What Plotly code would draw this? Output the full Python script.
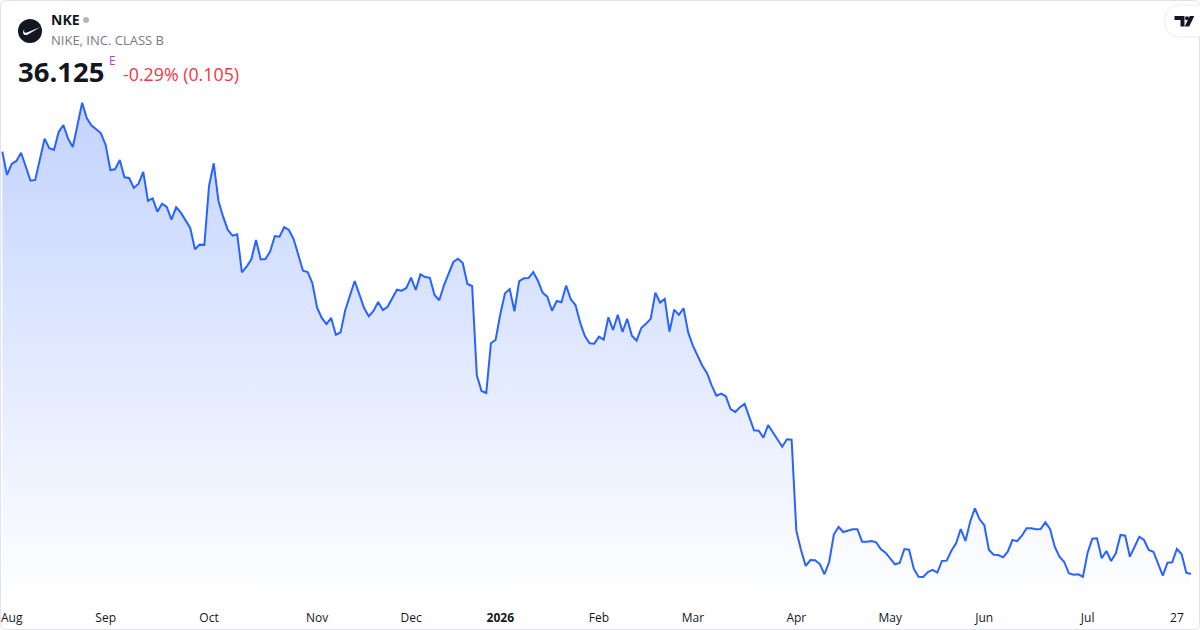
import plotly.graph_objects as go

# daily closes, Aug 2025 -> late Jul 2026
prices = [
    75.23, 73.07, 74.09, 74.37, 75.13, 73.81, 72.54, 72.61, 74.55, 76.43,
    75.54, 75.38, 77.05, 77.70, 76.43, 75.66, 77.70, 79.76, 78.32, 77.64,
    77.30, 76.93, 75.85, 73.53, 73.60, 74.46, 72.86, 72.79, 71.87, 72.26,
    73.35, 70.69, 70.91, 69.67, 70.41, 70.11, 68.93, 70.08, 69.58, 68.84,
    68.16, 66.19, 66.62, 66.60, 72.05, 74.15, 70.69, 69.21, 67.98, 67.45,
    67.58, 64.06, 64.58, 65.26, 67.05, 65.25, 65.29, 65.97, 67.42, 67.36,
    68.23, 67.98, 67.14, 65.69, 64.21, 64.09, 63.04, 60.78, 59.83, 59.27,
    59.83, 58.28, 58.50, 60.57, 61.96, 63.25, 62.02, 60.75, 59.99, 60.48,
    61.31, 60.57, 60.87, 61.65, 62.45, 62.36, 62.61, 63.56, 62.42, 63.87,
    63.62, 63.55, 61.96, 61.47, 62.86, 63.93, 65.01, 65.32, 64.92, 62.98,
    62.79, 54.52, 53.07, 52.88, 57.49, 57.82, 60.20, 62.12, 62.51, 60.45,
    63.23, 63.50, 63.52, 64.08, 63.28, 62.17, 61.80, 60.50, 61.40, 61.28,
    62.82, 61.56, 61.03, 59.39, 58.16, 57.49, 57.45, 58.10, 57.82, 59.89,
    58.72, 60.13, 58.53, 59.76, 58.19, 57.73, 58.90, 59.30, 59.75, 62.17,
    61.25, 61.59, 58.56, 60.60, 60.12, 60.73, 58.47, 57.24, 56.25, 55.41,
    54.71, 53.56, 52.64, 52.82, 52.58, 51.40, 51.13, 51.56, 51.87, 50.57,
    49.43, 49.39, 48.75, 49.92, 49.21, 48.63, 47.91, 48.60, 48.56, 40.14,
    38.35, 36.87, 37.42, 37.40, 37.05, 36.10, 37.26, 39.80, 40.48, 40.01,
    40.14, 40.26, 40.27, 39.12, 39.11, 39.18, 39.06, 38.41, 38.10, 37.58,
    37.02, 37.14, 38.44, 38.38, 36.62, 35.87, 35.85, 36.31, 36.50, 36.25,
    37.33, 37.36, 38.28, 38.97, 40.29, 39.18, 40.97, 42.21, 41.19, 40.66,
    38.35, 37.91, 37.88, 37.67, 38.19, 39.27, 39.17, 39.67, 40.36, 40.35,
    40.27, 40.29, 40.91, 40.29, 38.65, 37.73, 37.26, 36.19, 36.06, 36.10,
    35.87, 38.10, 39.39, 39.43, 37.58, 38.25, 37.33, 38.04, 39.74, 39.67,
    37.73, 38.65, 39.58, 39.27, 38.35, 38.19, 37.12, 35.97, 37.17, 37.21,
    38.44, 37.98, 36.25, 36.125,
]

tick_idx = [2, 22, 44, 67, 87, 106, 127, 147, 169, 189, 209, 231, 250]
tick_text = ["Aug", "Sep", "Oct", "Nov", "Dec", "<b>2026</b>", "Feb", "Mar",
             "Apr", "May", "Jun", "Jul", "27"]

W, H, B = 1200, 630, 27
PH = H - B
Y_LO, Y_HI = 33.44, 89.27

def px(x):
    return x / W

def py(y):
    return (PH - y) / PH

def path(points, close=True):
    s = "M " + " L ".join(f"{px(x):.5f},{py(y):.5f}" for x, y in points)
    return s + (" Z" if close else "")

def rounded_rect(x0, y0, x1, y1, r):
    p = lambda x, y: f"{px(x):.5f},{py(y):.5f}"
    return (f"M {p(x0 + r, y0)} L {p(x1 - r, y0)} Q {p(x1, y0)} {p(x1, y0 + r)} "
            f"L {p(x1, y1 - r)} Q {p(x1, y1)} {p(x1 - r, y1)} "
            f"L {p(x0 + r, y1)} Q {p(x0, y1)} {p(x0, y1 - r)} "
            f"L {p(x0, y0 + r)} Q {p(x0, y0)} {p(x0 + r, y0)} Z")

fig = go.Figure()
fig.add_trace(go.Scatter(
    x=list(range(len(prices))), y=prices,
    mode="lines",
    line=dict(color="#2962FF", width=2),
    fill="tozeroy",
    fillgradient=dict(type="vertical", start=Y_LO, stop=max(prices),
                      colorscale=[[0, "rgba(41,98,255,0.0)"],
                                  [1, "rgba(41,98,255,0.28)"]]),
    hoverinfo="skip",
))

font = "Open Sans, Noto Sans, sans-serif"

shapes = [
    # outer frame
    dict(type="path", xref="paper", yref="paper",
         path=rounded_rect(0.5, 0.5, W - 0.5, H - 0.5, 6),
         line=dict(color="#e0e3eb", width=1), fillcolor="rgba(0,0,0,0)"),
    # nike logo
    dict(type="circle", xref="paper", yref="paper",
         x0=px(18), x1=px(42), y0=py(43), y1=py(19),
         fillcolor="#131722", line=dict(width=0)),
    dict(type="path", xref="paper", yref="paper",
         path=(f"M {px(24.5):.5f},{py(28.5):.5f} "
               f"Q {px(20.5):.5f},{py(35.5):.5f} {px(27):.5f},{py(35):.5f} "
               f"L {px(40.5):.5f},{py(27):.5f} "
               f"L {px(27):.5f},{py(32.6):.5f} "
               f"Q {px(22.8):.5f},{py(33.6):.5f} {px(24.5):.5f},{py(28.5):.5f} Z"),
         fillcolor="white", line=dict(width=0)),
    # status dot
    dict(type="circle", xref="paper", yref="paper",
         x0=px(83), x1=px(89), y0=py(23), y1=py(17),
         fillcolor="#b2b5be", line=dict(width=0)),
    # tradingview badge
    dict(type="path", xref="paper", yref="paper",
         path=rounded_rect(1165, 5, 1214, 37, 15),
         fillcolor="white", line=dict(color="rgba(0,0,0,0.08)", width=1)),
    dict(type="path", xref="paper", yref="paper",
         path=path([(1174.5, 16), (1184.5, 16), (1184.5, 26.5), (1180.5, 26.5),
                    (1180.5, 20), (1174.5, 20)]),
         fillcolor="#131722", line=dict(width=0)),
    dict(type="circle", xref="paper", yref="paper",
         x0=px(1185), x1=px(1189), y0=py(20.2), y1=py(16.2),
         fillcolor="#131722", line=dict(width=0)),
    dict(type="path", xref="paper", yref="paper",
         path=path([(1189.8, 16), (1194.3, 16), (1189.2, 26.5), (1184.7, 26.5)]),
         fillcolor="#131722", line=dict(width=0)),
]

def label(x, y, text, size, color, bold=False):
    return dict(xref="paper", yref="paper", x=px(x), y=py(y),
                xanchor="left", yanchor="middle", showarrow=False,
                text=f"<b>{text}</b>" if bold else text,
                font=dict(family=font, size=size, color=color))

annotations = [
    label(49, 20, "NKE", 14, "#131722", bold=True),
    label(49, 40, "NIKE, INC. CLASS B", 13, "#787b86"),
    label(16, 71, "36.125", 27.5, "#131722", bold=True),
    label(107, 61, "E", 12, "#ab47bc"),
    label(121, 74, "-0.29% (0.105)", 17.8, "#f23645"),
]

fig.update_layout(
    width=W, height=H, autosize=False,
    margin=dict(l=0, r=0, t=0, b=B),
    paper_bgcolor="white", plot_bgcolor="white",
    showlegend=False,
    xaxis=dict(range=[-0.4895, 254.92], showgrid=False, zeroline=False,
               showline=False, ticks="", tickvals=tick_idx, ticktext=tick_text,
               ticklabelstandoff=6,
               tickfont=dict(family=font, size=12, color="#131722"),
               fixedrange=True),
    yaxis=dict(range=[Y_LO, Y_HI], visible=False, fixedrange=True),
    shapes=shapes,
    annotations=annotations,
)

fig.write_html("out.html", config={"displayModeBar": False},
               post_script="document.body.style.margin='0';"
                           "document.body.style.overflow='hidden';")
